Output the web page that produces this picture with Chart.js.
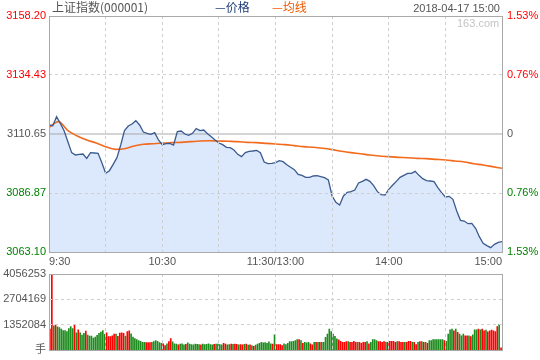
<!DOCTYPE html>
<html>
<head>
<meta charset="utf-8">
<script src="https://cdn.jsdelivr.net/npm/chart.js@4.4.1/dist/chart.umd.min.js"></script>
<style>
  body { margin: 0; background: #fff; width: 540px; height: 360px; overflow: hidden; position: relative;
         font-family: "Liberation Sans", Arial, "Noto Sans CJK SC", sans-serif; }
  canvas { position: absolute; left: 0; }
  #price-canvas { top: 0; }
  #vol-canvas { top: 262px; }
  .txt { position: absolute; white-space: nowrap; line-height: 14px; z-index: 2; }
</style>
</head>
<body>
<canvas id="price-canvas" width="540" height="272"></canvas>
<canvas id="vol-canvas" width="540" height="98"></canvas>

<div class="txt" style="left:52px;top:0;font-size:12px;color:#555;font-family:'Noto Sans CJK SC',sans-serif">上证指数(000001)</div>
<div class="txt" style="left:215px;top:0;font-size:12px;color:#1e3c78;font-family:'Noto Sans CJK SC',sans-serif">—价格</div>
<div class="txt" style="left:272px;top:0;font-size:12px;color:#f05a00;font-family:'Noto Sans CJK SC',sans-serif">—均线</div>
<div class="txt" style="right:40px;top:1px;font-size:11px;color:#555">2018-04-17 15:00</div>
<div class="txt" style="left:457px;top:16px;font-size:11px;color:#c4c4c4">163.com</div>

<script>
// 上证指数 2018-04-17 分时图.
const prevClose = 3110.65;

// price every 2 minutes, 9:30 .. 11:30 / 13:00 .. 15:00 (241 trading minutes)
const PRICE_STEP = 2;
const price = [
  3114.28, 3114.01, 3117.63, 3114.95, 3111.99, 3107.56, 3103.13, 3102.19, 3102.46, 3102.59,
  3100.84, 3103.13, 3102.99, 3102.86, 3099.10, 3094.80, 3095.87, 3098.43, 3101.11, 3106.22,
  3111.99, 3113.87, 3114.68, 3116.02, 3114.28, 3111.46, 3110.92, 3110.52, 3111.19, 3108.23,
  3106.35, 3106.75, 3106.89, 3106.20, 3111.59, 3111.86, 3110.65, 3110.11, 3110.92, 3112.80,
  3111.99, 3112.26, 3110.78, 3109.58, 3108.23, 3107.02, 3106.35, 3105.28, 3105.14, 3104.20,
  3102.46, 3101.52, 3103.13, 3103.67, 3103.80, 3104.07, 3103.13, 3099.37, 3098.69, 3098.83,
  3099.10, 3099.90, 3099.50, 3098.29, 3097.22, 3096.28, 3094.40, 3093.99, 3093.19, 3093.19,
  3093.73, 3093.86, 3093.46, 3093.05, 3092.11, 3085.67, 3083.11, 3082.04, 3085.67, 3087.14,
  3087.41, 3088.08, 3090.90, 3091.58, 3092.38, 3091.58, 3089.83, 3087.41, 3086.20, 3086.07,
  3088.35, 3089.97, 3091.58, 3093.19, 3093.99, 3094.80, 3094.80, 3095.61, 3093.99, 3092.65,
  3091.84, 3091.71, 3091.44, 3089.02, 3087.01, 3085.26, 3085.53, 3084.32, 3079.62, 3075.86,
  3075.59, 3074.52, 3074.65, 3072.64, 3069.28, 3066.59, 3065.65, 3064.85, 3066.19, 3067.00,
  3067.26
];

// 均价 every 5 minutes
const AVG_STEP = 5;
const avgPrice = [
  3113.34, 3115.62, 3111.99, 3109.84, 3108.23, 3107.02, 3105.55, 3104.47, 3104.74, 3105.81,
  3106.49, 3106.75, 3107.02, 3107.16, 3107.29, 3107.56, 3107.83, 3107.96, 3107.83, 3107.70,
  3107.56, 3107.29, 3107.16, 3106.89, 3106.62, 3106.35, 3105.95, 3105.55, 3105.28, 3104.88,
  3104.34, 3103.67, 3103.13, 3102.72, 3102.19, 3101.78, 3101.52, 3101.25, 3101.11, 3100.84,
  3100.71, 3100.44, 3100.17, 3099.77, 3099.37, 3098.69, 3098.16, 3097.49, 3096.82
];

// per-minute volume, thousands of lots (手)
const volK = [
  1127, 4056.253, 1300, 1352, 1248, 1213, 1127, 1057, 1057, 1005,
  1161, 1265, 1161, 1352, 936, 1092, 936, 815, 901, 1023,
  815, 763, 763, 659, 711, 797, 901, 971, 1057, 849,
  936, 728, 728, 780, 867, 867, 745, 919, 936, 901,
  763, 1005, 1040, 884, 711, 624, 572, 520, 485, 433,
  433, 416, 416, 416, 433, 468, 520, 485, 416, 381,
  347, 260, 347, 468, 624, 451, 347,
  330, 300, 330, 350, 300, 320, 400, 330, 310, 300,
  330, 320, 310, 300, 330, 310, 320, 350, 310, 300,
  320, 330, 340, 310, 300, 380, 330, 300, 310, 330,
  320, 340, 320, 300, 310, 300, 320, 330, 280, 300,
  250, 210, 280, 330, 380, 430, 400, 420, 380, 450,
  350, 330, 832, 310, 310, 310, 260, 350, 310, 380,
  470, 470, 485, 520, 570, 570, 520, 380, 430, 400,
  430, 350, 300, 430, 430, 430, 430, 430, 430, 690,
  870, 1127, 1005, 870, 745, 610, 555, 485, 430, 430,
  470, 470, 430, 430, 485, 430, 430, 430, 380, 430,
  430, 470, 350, 430, 570, 570, 520, 470, 470, 430,
  470, 430, 430, 485, 485, 485, 430, 470, 470, 430,
  430, 430, 430, 485, 485, 430, 430, 310, 430, 470,
  470, 430, 430, 380, 520, 520, 570, 570, 570, 570,
  570, 570, 520, 485, 870, 1092, 1127, 1040, 1127, 953,
  870, 780, 870, 780, 780, 780, 728, 832, 1092, 1092,
  1127, 1092, 1127, 1040, 1075, 988, 1040, 1075, 1040, 1000,
  1265, 1387, 139
];
// r = up minute, g = down minute
const volDir = (
  'rrgrgggggg' + 'gggrgrgggr' + 'gggggggggg' + 'rrrrrgrrrr' + 'grrggggggg' + 'grrrgggggg' + 'rrgrrgg' +
  'grgggrgggg' + 'gggrgggggg' + 'rggggrrggr' + 'grrgrrgrgr' + 'grgggggggg' +
  'grgrrrrggg' + 'gggggrgrgg' + 'grrgrgrggg' + 'ggggggrrrr' + 'rgrrrrgrrr' + 'rgrggggrrr' +
  'rgrrrrrgrr' + 'rgrrrgrrgr' + 'grgrgggggg' + 'ggrggggrgr' + 'gggrrgrggg' + 'rgrrgrrrrr' + 'rgr'
).split('');

const priceTicks = [3158.20, 3134.43, 3110.65, 3086.87, 3063.10];
const pctLabels = ['1.53%', '0.76%', '0', '0.76%', '1.53%'];
const timeLabels = ['9:30', '10:30', '11:30/13:00', '14:00', '15:00'];
const volTicks = [4056253, 2704169, 1352084, 0];
const volLabels = ['4056253', '2704169', '1352084', '手'];

const UP = '#ff0000';
const DOWN = '#008000';
const GRID = '#cfcfcf';

Chart.defaults.font.family = '"Liberation Sans", Arial, "Noto Sans CJK SC", sans-serif';
Chart.defaults.font.size = 11;
Chart.defaults.color = '#555';

const framePlugin = {
  id: 'frame',
  afterDraw(chart) {
    const { ctx, chartArea: a } = chart;
    ctx.save();
    ctx.strokeStyle = '#a9a9a9';
    ctx.lineWidth = 1;
    ctx.strokeRect(Math.round(a.left) + 0.5, Math.round(a.top) + 0.5,
      Math.round(a.right - a.left), Math.round(a.bottom - a.top));
    ctx.restore();
  },
};

function tickColor(value) {
  if (value > prevClose + 0.001) return UP;
  if (value < prevClose - 0.001) return DOWN;
  return '#555';
}

const minuteAxis = (extra) => ({
  type: 'linear',
  min: 0,
  max: 240,
  offset: false,
  grid: { color: GRID, drawTicks: false, z: 1, offset: false },
  border: { display: false, dash: [3, 3] },
  ...extra,
});

new Chart(document.getElementById('price-canvas'), {
  type: 'line',
  data: {
    datasets: [
      {
        label: '价格',
        data: price.map((p, i) => ({ x: i * PRICE_STEP, y: p })),
        borderColor: '#3b5b8e',
        borderWidth: 1.3,
        backgroundColor: '#dce8fc',
        fill: 'start',
        pointRadius: 0,
        tension: 0,
        order: 0,
      },
      {
        label: '均线',
        data: avgPrice.map((p, i) => ({ x: i * AVG_STEP, y: p })),
        borderColor: '#f26a1c',
        borderWidth: 1.6,
        pointRadius: 0,
        cubicInterpolationMode: 'monotone',
        fill: false,
        order: 1,
      },
      {
        label: '昨收',
        data: [{ x: 0, y: prevClose }, { x: 240, y: prevClose }],
        borderColor: '#a9a9a9',
        borderWidth: 1,
        pointRadius: 0,
        fill: false,
        order: 2,
      },
    ],
  },
  options: {
    responsive: false,
    animation: false,
    events: [],
    layout: { autoPadding: false, padding: { top: 16, left: 0, right: 0, bottom: 0 } },
    plugins: { legend: { display: false }, tooltip: { enabled: false }, filler: { drawTime: 'beforeDatasetsDraw' } },
    scales: {
      x: minuteAxis({
        ticks: {
          stepSize: 30,
          autoSkip: false,
          maxRotation: 0,
          align: 'inner',
          padding: 3,
          color: '#555',
          callback: (v) => (v % 60 === 0 ? timeLabels[v / 60] : ''),
        },
        afterFit: (s) => { s.height = 20; },
      }),
      y: {
        position: 'left',
        min: 3063.10,
        max: 3158.20,
        afterBuildTicks: (s) => { s.ticks = priceTicks.map((v) => ({ value: v })); },
        afterFit: (s) => { s.width = 49; },
        grid: {
          drawTicks: false,
          z: 1,
          color: (c) => (c.tick && Math.abs(c.tick.value - prevClose) < 0.001 ? 'transparent' : GRID),
        },
        border: { display: false, dash: [3, 3] },
        ticks: {
          autoSkip: false,
          padding: 3,
          color: (c) => tickColor(c.tick.value),
          callback: (v) => v.toFixed(2),
        },
      },
      y1: {
        position: 'right',
        min: 3063.10,
        max: 3158.20,
        afterBuildTicks: (s) => { s.ticks = priceTicks.map((v) => ({ value: v })); },
        afterFit: (s) => { s.width = 38; },
        grid: { display: false, drawTicks: false },
        border: { display: false },
        ticks: {
          autoSkip: false,
          padding: 5,
          color: (c) => tickColor(c.tick.value),
          callback: (v, i) => pctLabels[i],
        },
      },
    },
  },
  plugins: [framePlugin],
});

new Chart(document.getElementById('vol-canvas'), {
  type: 'bar',
  data: {
    datasets: [{
      label: '成交量',
      data: volK.map((v, i) => ({ x: i + 0.5, y: v * 1000 })),
      backgroundColor: volDir.map((d) => (d === 'r' ? UP : '#1f8c1f')),
      barThickness: 1,
      borderWidth: 0,
    }],
  },
  options: {
    responsive: false,
    animation: false,
    events: [],
    layout: { autoPadding: false, padding: { top: 12, left: 0, right: 38, bottom: 9 } },
    plugins: { legend: { display: false }, tooltip: { enabled: false } },
    scales: {
      x: minuteAxis({
        ticks: { display: false, stepSize: 30 },
        afterFit: (s) => { s.height = 0; },
      }),
      y: {
        position: 'left',
        min: 0,
        max: 4056253,
        afterBuildTicks: (s) => { s.ticks = volTicks.map((v) => ({ value: v })); },
        afterFit: (s) => { s.width = 49; },
        grid: { color: GRID, drawTicks: false, z: 1 },
        border: { display: false, dash: [3, 3] },
        ticks: {
          autoSkip: false,
          padding: 3,
          color: '#555',
          callback: (v, i) => volLabels[i],
        },
      },
    },
  },
  plugins: [framePlugin],
});
</script>
</body>
</html>
